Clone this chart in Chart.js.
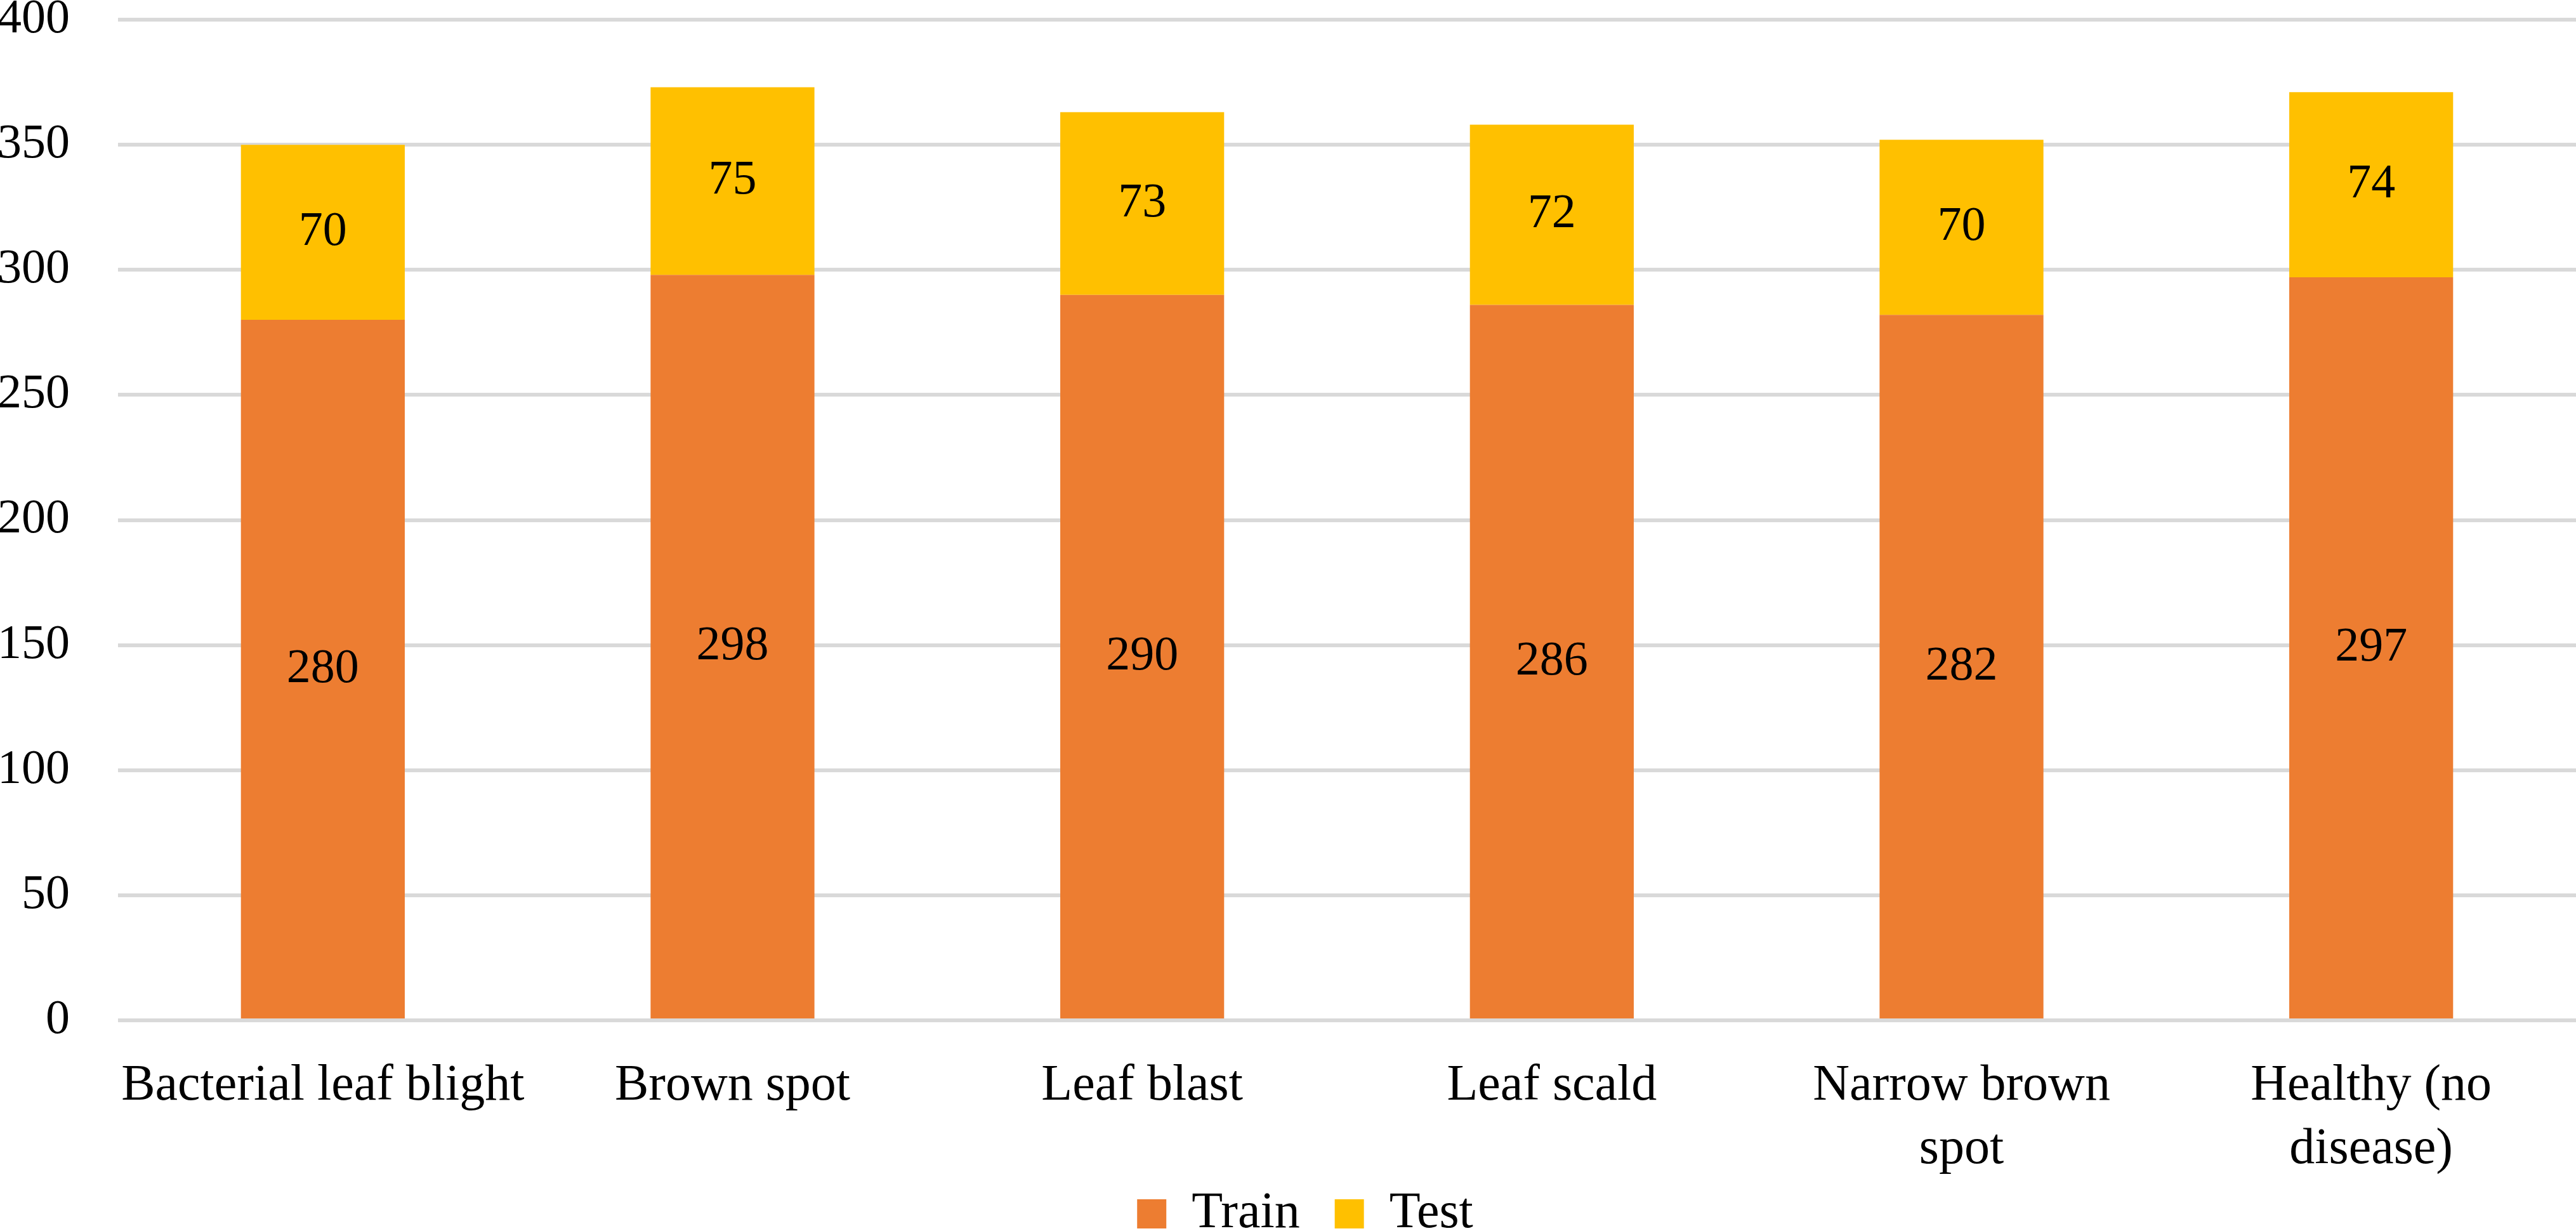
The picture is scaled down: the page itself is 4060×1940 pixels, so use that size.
<!DOCTYPE html>
<html>
<head>
<meta charset="utf-8">
<script src="https://cdn.jsdelivr.net/npm/chart.js@4/dist/chart.umd.min.js"></script>
<style>
  html, body { margin: 0; padding: 0; background: #fff; }
  #chart { display: block; }
</style>
</head>
<body>
<canvas id="chart" width="4060" height="1940"></canvas>
<script>
const categories = [
    "Bacterial leaf blight",
    "Brown spot",
    "Leaf blast",
    "Leaf scald",
    ["Narrow brown", "spot"],
    ["Healthy (no", "disease)"]
];
const trainValues = [280, 298, 290, 286, 282, 297];
const testValues = [70, 75, 73, 72, 70, 74];
const yTicks = [0, 50, 100, 150, 200, 250, 300, 350, 400];

const fontFamily = "'Liberation Serif', 'Times New Roman', serif";

// writes each value in the middle of its bar segment
const segmentLabels = {
    id: "segmentLabels",
    afterDatasetsDraw(chart) {
        const ctx = chart.ctx;
        ctx.save();
        ctx.font = "76px " + fontFamily;
        ctx.fillStyle = "#000";
        ctx.textAlign = "center";
        ctx.textBaseline = "middle";
        chart.data.datasets.forEach((ds, i) => {
            const meta = chart.getDatasetMeta(i);
            meta.data.forEach((bar, j) => {
                const y = (bar.y + bar.base) / 2;
                ctx.fillText(String(ds.data[j]), bar.x, y);
            });
        });
        ctx.restore();
    }
};

// x labels run into the legend band, so don't clip them; nudge legend right a bit
const layoutTweaks = {
    id: "layoutTweaks",
    afterLayout(chart) {
        chart.scales.x.bottom = chart.height;
        chart.legend.left += 27;
        chart.legend.right += 27;
    }
};

new Chart(document.getElementById("chart"), {
    type: "bar",
    data: {
        labels: categories,
        datasets: [
            { label: "Train", data: trainValues, backgroundColor: "#ED7D31" },
            { label: "Test", data: testValues, backgroundColor: "#FFC000" }
        ]
    },
    options: {
        responsive: false,
        devicePixelRatio: 1,
        animation: false,
        layout: { padding: { top: 31, right: 0, left: 0, bottom: 0 } },
        datasets: {
            bar: { categoryPercentage: 1, barPercentage: 0.4 }
        },
        scales: {
            x: {
                stacked: true,
                grid: { display: false, drawTicks: false },
                border: { display: false },
                ticks: {
                    color: "#000",
                    padding: 54,
                    maxRotation: 0,
                    autoSkip: false,
                    font: { family: fontFamily, size: 80, lineHeight: 1.25 }
                },
                afterFit(scale) {
                    scale.height = 210;
                    scale.paddingLeft = 0;
                    scale.paddingRight = 0;
                }
            },
            y: {
                stacked: true,
                min: 0,
                max: 400,
                afterBuildTicks(scale) {
                    scale.ticks = yTicks.map(v => ({ value: v }));
                },
                grid: { color: "#D9D9D9", lineWidth: 6, drawTicks: false },
                border: { display: false },
                ticks: {
                    color: "#000",
                    padding: 76,
                    font: { family: fontFamily, size: 76 }
                },
                afterFit(scale) {
                    scale.width = 186;
                    scale.paddingTop = 0;
                    scale.paddingBottom = 0;
                }
            }
        },
        plugins: {
            legend: {
                position: "bottom",
                maxHeight: 122,
                labels: {
                    color: "#000",
                    boxWidth: 46,
                    boxHeight: 46,
                    padding: 55,
                    font: { family: fontFamily, size: 80 }
                }
            },
            tooltip: { enabled: false }
        }
    },
    plugins: [segmentLabels, layoutTweaks]
});
</script>
</body>
</html>
